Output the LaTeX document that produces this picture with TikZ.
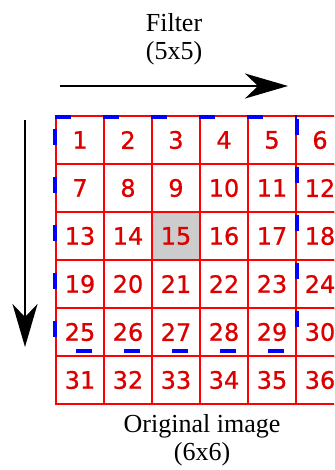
\documentclass[tikz,border=0pt]{standalone}
\usepackage{fontspec}
\setmainfont{Liberation Serif}
\newfontfamily\digitfont{DejaVu Sans}[FakeBold=0.8]
\usetikzlibrary{arrows.meta}
\definecolor{gridred}{RGB}{255,0,0}
\definecolor{numred}{RGB}{220,0,0}
\definecolor{filterblue}{RGB}{0,0,255}
\definecolor{cellgray}{RGB}{204,204,204}
\tikzset{
  cellbox/.style={draw=gridred,line width=1.2pt,minimum size=48pt,
                  inner sep=0pt,text=numred,
                  font=\digitfont\fontsize{24}{28}\selectfont},
  caption/.style={align=center,font=\fontsize{26}{28}\selectfont},
  bigarrow/.style={line width=2.8pt,
                   -{Stealth[length=43pt,width=25pt,inset=13pt]}},
  filteredge/.style={filterblue,line width=3.5pt,dash pattern=on 16pt off 32pt}
}

\begin{document}
\begin{tikzpicture}[x=1pt,y=-1pt]
        \clip (0,0) rectangle (334,470);
        \foreach \r in {0,...,5}
          \foreach \c in {0,...,5} {
            \pgfmathtruncatemacro{\n}{6*\r+\c+1}
            \ifnum\n=15 \def\cellfill{cellgray}\else\def\cellfill{none}\fi
            \node[cellbox,fill=\cellfill] (p\n) at ({80+48*\c},{140+48*\r}) {\n};
          }
        % 5x5 filter window
        \coordinate (fnw) at (55,117);
        \coordinate (fne) at (297,117);
        \coordinate (fse) at (297,351);
        \coordinate (fsw) at (55,351);
        \draw[filteredge] (fnw) -- (fne);
        \draw[filteredge,dash phase=46pt] (fne) -- (fse);
        \draw[filteredge,dash phase=27pt] (fsw) -- (fse);
        \draw[filteredge,dash phase=36pt] (fnw) -- (fsw);
        % sliding directions
        \coordinate (hstart) at (60,86);
        \coordinate (hend) at (288,86);
        \coordinate (vstart) at (25,120);
        \coordinate (vend) at (25,347);
        \draw[bigarrow] (hstart) -- (hend);
        \draw[bigarrow] (vstart) -- (vend);
        \node[caption,anchor=base] (filterlbl) at (174,60) {Filter\\(5x5)};
        \node[caption,anchor=base] (imagelbl) at (202,460) {Original image\\(6x6)};
      \end{tikzpicture}
\end{document}
